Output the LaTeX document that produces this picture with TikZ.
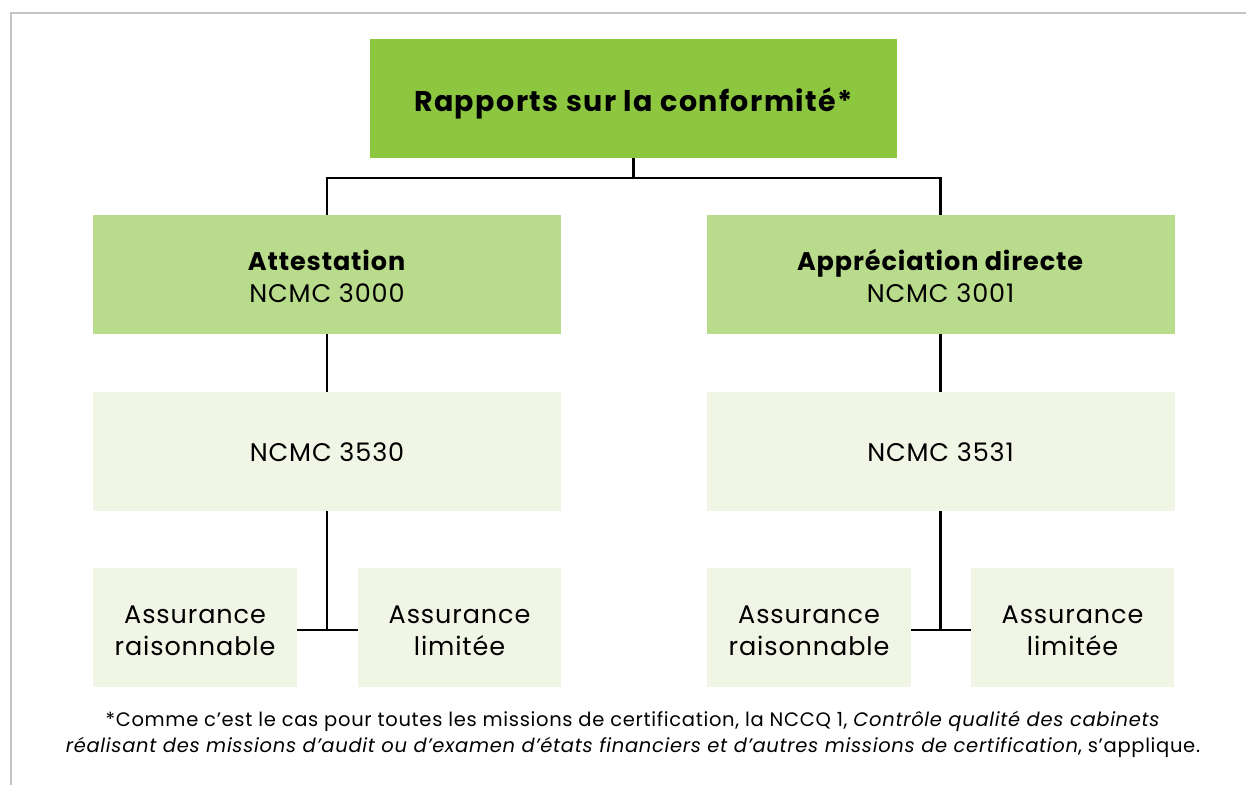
\documentclass[tikz,border=0pt]{standalone}
\usepackage{fontspec}
\setmainfont{Poppins}
\definecolor{gtop}{HTML}{8DC63F}
\definecolor{gmid}{HTML}{B9DB8C}
\definecolor{glow}{HTML}{F0F5E6}
\definecolor{frame}{HTML}{C4C4C4}
\newcommand\dnshift[2]{\raisebox{-#1}[\height][\depth]{#2}}
\newcommand\twoline[3]{\dnshift{#1}{\begin{tabular}{@{}c@{}}#2\\#3\end{tabular}}}
\begin{document}
\begin{tikzpicture}[x=1pt,y=-1pt,
  box/.style={draw=none,inner sep=0pt,minimum width=#1,minimum height=119pt,align=center,text=black},
  box/.default=468pt,
  conn/.style={draw=black,line width=2.2pt},
  lbl/.style={font=\fontsize{25.5}{32}\selectfont\addfontfeatures{LetterSpace=3.5}}]
\useasboundingbox (0,0) rectangle (1246,785);
\draw[frame,line width=2.2pt] (11,785) -- (11,13) -- (1246,13);
\node[box=527pt,fill=gtop,font=\fontsize{28.5}{32}\selectfont\bfseries\addfontfeatures{LetterSpace=5}] (top) at (633.5,98.5) {\dnshift{5pt}{Rapports sur la conformité*}};
\node[box,fill=gmid,lbl] (att) at (327,274.5) {\twoline{6pt}{\textbf{Attestation}}{NCMC 3000}};
\node[box,fill=gmid,lbl] (app) at (940.5,274.5) {\twoline{6pt}{\textbf{Appréciation directe}}{NCMC 3001}};
\node[box,fill=glow,lbl] (n30) at (327,451.5) {\dnshift{1pt}{NCMC 3530}};
\node[box,fill=glow,lbl] (n31) at (940.5,451.5) {\dnshift{1pt}{NCMC 3531}};
\node[box=204pt,fill=glow,lbl] (ar1) at (195,627.5) {\twoline{6pt}{Assurance}{raisonnable}};
\node[box=203pt,fill=glow,lbl] (al1) at (459.5,627.5) {\twoline{6pt}{Assurance}{limitée}};
\node[box=204pt,fill=glow,lbl] (ar2) at (809,627.5) {\twoline{6pt}{Assurance}{raisonnable}};
\node[box=203pt,fill=glow,lbl] (al2) at (1072.5,627.5) {\twoline{6pt}{Assurance}{limitée}};
\coordinate (j0) at (633.5,178);
\draw[conn] (top.south) -- (j0);
\draw[conn] (att.north) |- (j0) -| (app.north);
\draw[conn] (att.south) -- (n30.north);
\draw[conn] (app.south) -- (n31.north);
\draw[conn] (n30.south) -- ([yshift=-2.5pt]n30.south |- ar1.east);
\draw[conn] ([yshift=-2.5pt]ar1.east) -- ([yshift=-2.5pt]al1.west);
\draw[conn] (n31.south) -- ([yshift=-2.5pt]n31.south |- ar2.east);
\draw[conn] ([yshift=-2.5pt]ar2.east) -- ([yshift=-2.5pt]al2.west);
\node[align=center,font=\fontsize{19.5}{26}\selectfont\addfontfeatures{LetterSpace=3.5}] (note) at (633,734) {*Comme c’est le cas pour toutes les missions de certification, la NCCQ 1, \textit{Contrôle qualité des cabinets}\\\textit{réalisant des missions d’audit ou d’examen d’états financiers et d’autres missions de certification}, s’applique.};
\end{tikzpicture}
\end{document}
